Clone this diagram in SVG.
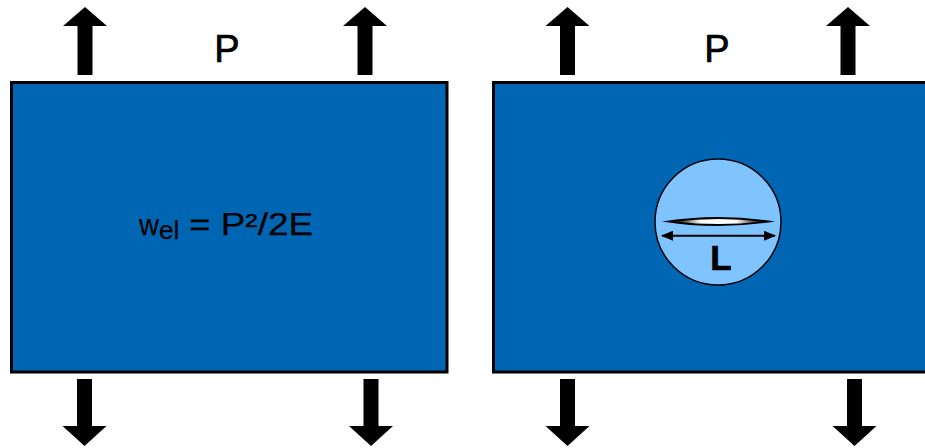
<svg xmlns="http://www.w3.org/2000/svg" width="925" height="448" viewBox="0 0 925 448">
<style>
.plate{fill:#0066b3;stroke:#000;stroke-width:3}
.t{font-family:"Liberation Sans",Arial,sans-serif;fill:#000;stroke:#000;stroke-width:0.7}
.f{font-family:"Liberation Sans",Arial,sans-serif;fill:#000;stroke:#000;stroke-width:0.25}
</style>
<defs>
<path id="up" d="M0,7 L22,26 L7.5,26 L7.5,75 L-7.5,75 L-7.5,26 L-22,26 Z"/>
<path id="dn" d="M-7.5,379 L7.5,379 L7.5,426 L22,426 L0,446 L-22,426 L-7.5,426 Z"/>
<linearGradient id="cg" x1="0" x2="1" y1="0" y2="0">
<stop offset="0" stop-color="#000"/>
<stop offset="0.3" stop-color="#fff"/>
<stop offset="0.7" stop-color="#fff"/>
<stop offset="1" stop-color="#000"/>
</linearGradient>
<marker id="ah" viewBox="0 0 12 10" refX="11" refY="5" markerWidth="12" markerHeight="10" markerUnits="userSpaceOnUse" orient="auto-start-reverse">
<path d="M0,0 L12,5 L0,10 Z" fill="#000"/>
</marker>
</defs>
<g id="left-plate">
<rect class="plate" x="11.5" y="82.5" width="435.5" height="289.5"/>
<text class="t" x="227" y="62" font-size="38" text-anchor="middle">P</text>
<text class="f" font-size="29"><tspan x="139" y="235" textLength="20" lengthAdjust="spacingAndGlyphs">w</tspan><tspan x="159" y="238.5" font-size="26">el</tspan></text>
<text class="f" x="189" y="235" font-size="31" textLength="124" lengthAdjust="spacingAndGlyphs">= P²/2E</text>
</g>
<g id="right-plate">
<rect class="plate" x="493.5" y="82.5" width="450" height="289.5"/>
<text class="t" x="717" y="62" font-size="38" text-anchor="middle">P</text>
</g>
<g id="crack-zone">
<circle cx="718" cy="222" r="63" fill="#80c4ff" stroke="#000" stroke-width="1.5"/>
<path d="M662,221.5 Q718,212.5 775,221.5 Q718,230.5 662,221.5 Z" fill="#000"/>
<path d="M675,221.5 Q718,216.5 762,221.5 Q718,226.5 675,221.5 Z" fill="url(#cg)"/>
<text class="t" x="721" y="270" font-size="35" font-weight="bold" text-anchor="middle" stroke-width="0">L</text>
</g>
<g id="connectors">
<use href="#up" x="85"/>
<use href="#up" x="365"/>
<use href="#up" x="567.5"/>
<use href="#up" x="848"/>
<use href="#dn" x="84.5"/>
<use href="#dn" x="371"/>
<use href="#dn" x="567.5"/>
<use href="#dn" x="854.5"/>
<line x1="662" y1="235.7" x2="775" y2="235.7" stroke="#000" stroke-width="2" marker-start="url(#ah)" marker-end="url(#ah)"/>
</g>
</svg>
